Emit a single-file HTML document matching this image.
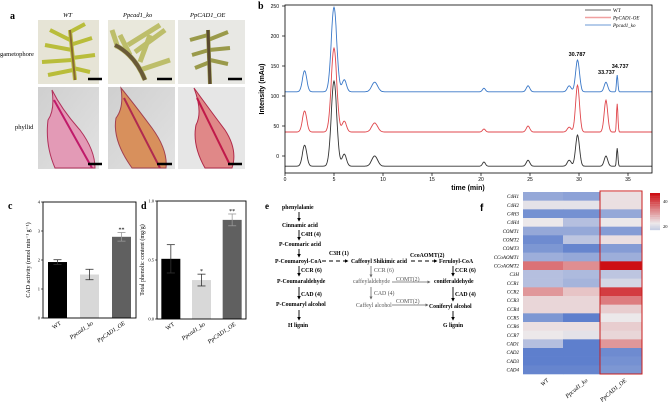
<!DOCTYPE html>
<html><head><meta charset="utf-8">
<style>
html,body{margin:0;padding:0;background:#fff;}
#root{position:relative;width:669px;height:404px;overflow:hidden;font-family:"Liberation Serif",serif;}
svg{position:absolute;left:0;top:0;}
</style></head>
<body>
<div id="root">
<svg id="fig" width="669" height="404" viewBox="0 0 669 404">
<defs>
 <linearGradient id="phyl" x1="0" y1="0" x2="1" y2="1"><stop offset="0" stop-color="#cfcfcf"/><stop offset="1" stop-color="#e2e2e2"/></linearGradient>
 <marker id="ah" viewBox="0 0 6 6" refX="5" refY="3" markerWidth="4" markerHeight="4" orient="auto"><path d="M0 0 L6 3 L0 6Z" fill="#000"/></marker>
 <marker id="ahg" viewBox="0 0 6 6" refX="5" refY="3" markerWidth="4" markerHeight="4" orient="auto"><path d="M0 0 L6 3 L0 6Z" fill="#666"/></marker>
</defs>
<!-- panel a -->
<g>
 <text x="10" y="19" font-size="10" font-weight="bold">a</text>
 <text x="63" y="17" font-size="6.5" font-style="italic">WT</text>
 <text x="123" y="17" font-size="6.5" font-style="italic">Ppcad1_ko</text>
 <text x="190" y="17" font-size="6.5" font-style="italic">PpCAD1_OE</text>
 <text x="0" y="56" font-size="6.5">gametophore</text>
 <text x="15" y="129" font-size="6.5">phyllid</text>
 <g>
  <rect x="38" y="20" width="61" height="64" fill="#e6e4d6"/>
  <path d="M75 80 L70 30 M70 40 L50 30 M72 50 L45 45 M72 60 L42 62 M73 70 L48 75 M70 45 L92 38 M72 58 L95 55 M73 68 L90 72 M70 32 L85 24" stroke="#b9bd3a" stroke-width="4" fill="none"/>
  <path d="M75 80 L70 30" stroke="#8a6a30" stroke-width="2"/>
 </g>
 <g>
  <rect x="108" y="20" width="67" height="64" fill="#e9e8dc"/>
  <path d="M145 80 Q135 55 115 45 M118 48 L112 30 M130 55 L120 35 M140 62 L150 35 M135 52 L165 30 M128 45 L160 25 M140 70 L170 60" stroke="#bdbe6a" stroke-width="5" fill="none"/>
  <path d="M145 80 Q135 55 115 45" stroke="#6a5a38" stroke-width="4" fill="none"/>
 </g>
 <g>
  <rect x="178" y="20" width="67" height="64" fill="#e8e8e4"/>
  <path d="M210 84 L208 30 M208 35 L190 40 M208 40 L228 32 M209 50 L192 55 M209 50 L230 48 M210 62 L195 68 M210 60 L228 64" stroke="#9a9a4a" stroke-width="4" fill="none"/>
  <path d="M210 84 L208 30" stroke="#5b4a30" stroke-width="3"/>
 </g>
 <g>
  <rect x="38" y="87" width="61" height="82" fill="url(#phyl)"/>
  <path d="M52 90 Q62 110 80 130 Q95 150 95 168 L55 168 Q45 145 48 120 Q55 110 52 90Z" fill="#e39ab6" stroke="#b0305a" stroke-width="1"/>
  <path d="M54 100 L92 168" stroke="#c01a6a" stroke-width="2"/>
 </g>
 <g>
  <rect x="108" y="87" width="67" height="82" fill="url(#phyl)"/>
  <path d="M121 88 Q135 105 152 128 Q168 150 166 168 L132 168 Q112 140 116 118 Q124 108 121 88Z" fill="#d8905c" stroke="#a24050" stroke-width="1"/>
  <path d="M124 98 L160 168" stroke="#b02a50" stroke-width="2"/>
 </g>
 <g>
  <rect x="178" y="87" width="67" height="82" fill="#e6e6e6"/>
  <path d="M194 88 Q210 110 225 130 Q238 150 232 168 L205 168 Q192 145 196 125 Q203 112 194 88Z" fill="#e08888" stroke="#b02a4a" stroke-width="1"/>
  <path d="M197 98 L230 165" stroke="#c01a4a" stroke-width="2"/>
 </g>
 <g stroke="#000" stroke-width="2.5">
  <line x1="88" y1="79" x2="102" y2="79"/><line x1="157" y1="79" x2="172" y2="79"/><line x1="228" y1="79" x2="242" y2="79"/>
  <line x1="88" y1="164" x2="102" y2="164"/><line x1="157" y1="164" x2="172" y2="164"/><line x1="228" y1="164" x2="242" y2="164"/>
 </g>
</g>
<g id="panelB"></g>
<g id="panelC"></g>
<g id="panelD"></g>
<!-- panel e -->
<g font-size="5.8" font-weight="bold" fill="#000">
 <text x="265" y="209" font-size="9">e</text>
 <text x="282" y="209">phenylalanie</text>
 <text x="282" y="227">Cinnamic acid</text>
 <text x="301" y="236">C4H (4)</text>
 <text x="279" y="246">P-Coumaric acid</text>
 <text x="275" y="263">P-Coumaroyl-CoA</text>
 <text x="329" y="255">C3H (1)</text>
 <text x="351" y="263">Caffeoyl Shikimic acid</text>
 <text x="410" y="257">CcoAOMT(2)</text>
 <text x="439" y="263">Feruloyl-CoA</text>
 <text x="301" y="272">CCR (6)</text>
 <text x="277" y="283">P-Coumaraldehyde</text>
 <text x="301" y="296">CAD (4)</text>
 <text x="276" y="306">P-Coumaryl alcohol</text>
 <text x="288" y="327">H lignin</text>
 <text x="374" y="272" font-weight="normal" fill="#555">CCR (6)</text>
 <text x="353" y="283" font-weight="normal" fill="#555">caffeylaldehyde</text>
 <text x="374" y="295" font-weight="normal" fill="#555">CAD (4)</text>
 <text x="356" y="307" font-weight="normal" fill="#555">Caffeyl alcohol</text>
 <text x="396" y="281" font-weight="normal" fill="#555">COMT(2)</text>
 <text x="396" y="303" font-weight="normal" fill="#555">COMT(2)</text>
 <text x="434" y="283">coniferaldehyde</text>
 <text x="429" y="308">Coniferyl alcohol</text>
 <text x="455" y="272">CCR (6)</text>
 <text x="455" y="296">CAD (4)</text>
 <text x="443" y="327">G lignin</text>
 <g stroke="#000" stroke-width="0.9" fill="none" marker-end="url(#ah)">
  <line x1="299" y1="212" x2="299" y2="221"/><line x1="299" y1="230" x2="299" y2="240"/><line x1="299" y1="249" x2="299" y2="257"/>
  <line x1="299" y1="266" x2="299" y2="276"/><line x1="299" y1="287" x2="299" y2="299"/><line x1="299" y1="310" x2="299" y2="320"/>
  <line x1="453" y1="266" x2="453" y2="276"/><line x1="453" y1="287" x2="453" y2="301"/><line x1="453" y1="311" x2="453" y2="320"/>
  <line x1="322" y1="261" x2="348" y2="261" stroke-dasharray="4,3"/><line x1="411" y1="261" x2="437" y2="261" stroke-dasharray="4,3"/>
 </g>
 <g stroke="#666" stroke-width="0.8" fill="none" marker-end="url(#ahg)">
  <line x1="371" y1="266" x2="371" y2="277"/><line x1="371" y1="287" x2="371" y2="299"/>
  <line x1="392" y1="282" x2="430" y2="282"/><line x1="392" y1="305" x2="428" y2="305"/>
 </g>
</g>
<g id="panelF"></g>
</svg>
</div>
<script>
const NS="http://www.w3.org/2000/svg";
function mk(parent,tag,attrs,txt){const e=document.createElementNS(NS,tag);for(const k in attrs)e.setAttribute(k,attrs[k]);if(txt!==undefined)e.textContent=txt;parent.appendChild(e);return e;}

// ---------- Panel B data ----------
const peakTimes=[2.0,5.0,6.05,9.15,20.3,24.8,29.0,29.85,32.75,33.9];
const peakWidths=[0.22,0.28,0.22,0.3,0.15,0.18,0.2,0.2,0.18,0.07];
const wtBaseline=-17;
const wtHeights=[35,142,20,17,7,10,10,52,17,30];
const oeBaseline=40;
const oeHeights=[35,140,18,15,5,10,8,78,53,47];
const koBaseline=107;
const koHeights=[35,141,20,16,6,10,10,53,16,28];
const bYTicks=[0,50,100,150,200,250];
const bXTicks=[0,5,10,15,20,25,30,35];
const peakLabels=["30.787","33.737","34.737"];
const peakLabelTimes=[29.8,32.8,34.2];
const peakLabelValues=[167,137,147];

const bx=t=>285+t*(343/35);
const by=v=>156-v*(150/250);
(function(){
 const g=document.getElementById('panelB');
 mk(g,'text',{x:258,y:9,'font-size':10,'font-weight':'bold',},'b');
 const series=[[wtBaseline,wtHeights,'#333333','wt-trace'],[oeBaseline,oeHeights,'#e0474c','oe-trace'],[koBaseline,koHeights,'#3a78c8','ko-trace']];
 series.forEach(([b,h,c,name])=>{
  let d='';
  for(let t=0;t<=37.5;t+=0.05){
   let v=b;
   for(let i=0;i<peakTimes.length;i++){const z=(t-peakTimes[i])/peakWidths[i];v+=h[i]*Math.exp(-0.5*z*z);}
   d+=(d?'L':'M')+bx(t).toFixed(1)+' '+by(v).toFixed(1);
  }
  const p=mk(g,'path',{d:d,fill:'none',stroke:c,'stroke-width':0.9});
  
  
 });
 const fr=mk(g,'rect',{x:285,y:5,width:367,height:168,fill:'none',stroke:'#000','stroke-width':0.8});
 
 
 bYTicks.forEach(v=>{
  mk(g,'line',{x1:282,x2:285,y1:by(v),y2:by(v),stroke:'#000','stroke-width':0.7});
  const t=mk(g,'text',{x:279,y:by(v)+2,'font-size':5,'text-anchor':'end','font-family':'Liberation Sans'},v);
  
  
 });
 bXTicks.forEach(v=>{
  mk(g,'line',{x1:bx(v),x2:bx(v),y1:173,y2:176,stroke:'#000','stroke-width':0.7});
  const t=mk(g,'text',{x:bx(v),y:181,'font-size':5,'text-anchor':'middle','font-family':'Liberation Sans'},v);
  
  
 });
 const yl=mk(g,'text',{x:264,y:89,'font-size':7,'font-weight':'bold','text-anchor':'middle','font-family':'Liberation Sans',transform:'rotate(-90 264 89)'},'Intensity (mAu)');
 
 
 const xl=mk(g,'text',{x:468,y:190,'font-size':7,'font-weight':'bold','text-anchor':'middle','font-family':'Liberation Sans'},'time (min)');
 
 
 peakLabels.forEach((s,i)=>{
  const t=mk(g,'text',{x:bx(peakLabelTimes[i]),y:by(peakLabelValues[i]),'font-size':5.5,'font-weight':'bold','text-anchor':'middle','font-family':'Liberation Sans'},s);
  
  
 });
 const leg=[['WT','#333','normal'],['PpCAD1-OE','#f0a0a0','italic'],['Ppcad1_ko','#3a78c8','italic']];
 leg.forEach((l,i)=>{
  const y=10+i*7.5;
  mk(g,'line',{x1:585,x2:611,y1:y,y2:y,stroke:l[1],'stroke-width':i==1?1.5:0.8});
  const t=mk(g,'text',{x:613,y:y+2,'font-size':5,'font-style':l[2]},l[0]);
  
  
 });
})();

// ---------- Panel C / D data ----------
const barCategories=["WT","Ppcad1_ko","PpCAD1_OE"];
const cadValues=[1.93,1.5,2.8];
const cadErrors=[0.08,0.18,0.15];
const cadTicks=[0,1,2,3,4];
const phenolValues=[0.51,0.33,0.84];
const phenolErrors=[0.12,0.05,0.05];
const phenolTicks=[0,0.5,1.0];
const barSignif=["","","**"];
const phenolSignif=["","*","**"];
const barColors=["#000000","#d8d8d8","#606060"];

function barPanel(id,left,right,top,bottom,maxV,vals,errs,ticks,tickFmt,sig,label,ytitle,lx){
 const g=document.getElementById(id);
 const sy=v=>bottom-v*(bottom-top)/maxV;
 const slot=(right-left)/3;
 mk(g,'text',{x:lx,y:209,'font-size':10,'font-weight':'bold'},label);
 vals.forEach((v,i)=>{
  const cx=left+slot*(i+0.5)+ (i-1)*1;
  const r=mk(g,'rect',{x:cx-9.5,y:sy(v),width:19,height:bottom-sy(v),fill:barColors[i]});
  
  
  const e1=sy(v+errs[i]),e2=sy(v-errs[i]);
  const ec=i==2?'#999':'#333';
  mk(g,'line',{x1:cx,x2:cx,y1:e1,y2:e2,stroke:ec,'stroke-width':0.8});
  mk(g,'line',{x1:cx-4,x2:cx+4,y1:e1,y2:e1,stroke:ec,'stroke-width':0.8});
  mk(g,'line',{x1:cx-4,x2:cx+4,y1:e2,y2:e2,stroke:ec,'stroke-width':0.8});
  if(sig[i]){const s=mk(g,'text',{x:cx,y:e1-1,'font-size':6,'text-anchor':'middle'},sig[i]);}
  const t=mk(g,'text',{x:cx+4,y:bottom+6,'font-size':6,'font-style':i?'italic':'normal','text-anchor':'end',transform:`rotate(-35 ${cx+4} ${bottom+6})`},barCategories[i]);
  
  
 });
 mk(g,'rect',{x:left,y:top,width:right-left,height:bottom-top,fill:'none',stroke:'#000','stroke-width':0.9});
 ticks.forEach(v=>{
  mk(g,'line',{x1:left-2,x2:left,y1:sy(v),y2:sy(v),stroke:'#000','stroke-width':0.6});
  const t=mk(g,'text',{x:left-3,y:sy(v)+1.5,'font-size':4.5,'text-anchor':'end'},tickFmt(v));
  
  
 });
 const yt=mk(g,'text',{x:left-13,y:(top+bottom)/2,'font-size':6,'text-anchor':'middle',transform:`rotate(-90 ${left-13} ${(top+bottom)/2})`},ytitle);
 
 
}
barPanel('panelC',43,136,202,318,4,cadValues,cadErrors,cadTicks,v=>v,barSignif,'c','CAD activity (nmol min⁻¹ g⁻¹)',8);
barPanel('panelD',157,246,201,319,1.0,phenolValues,phenolErrors,phenolTicks,v=>v.toFixed(1),phenolSignif,'d','Total phenolic content (mg/g)',141);

// ---------- Panel F data ----------
const geneNames=["C4H1","C4H2","C4H3","C4H4","COMT1","COMT2","COMT3","CCoAOMT1","CCoAOMT2","C3H","CCR1","CCR2","CCR3","CCR4","CCR5","CCR6","CCR7","CAD1","CAD2","CAD3","CAD4"];
const heatWT=[10,20,6,21,10,5,7,11,34,14,14,30,23,23,7,22,21,14,3,3,4];
const heatKO=[9,20,6,14,10,15,4,10,31,13,12,25,23,23,3,22,20,3,3,3,4];
const heatOE=[22,22,10,21,8,22,8,11,45,15,18,40,33,24,21,24,23,30,5,6,7];
const heatColumns=["WT","Ppcad1_ko","PpCAD1_OE"];
const legendTicks=[40,20];
function heatColor(v){
 const mid=21;const lo=[70,110,200],m=[236,232,234],hi=[205,15,20];
 let c;
 if(v<=mid){const t=Math.max(0,v)/mid;c=lo.map((a,i)=>a+(m[i]-a)*t);}
 else{const t=Math.min(1,(v-mid)/(45-mid));c=m.map((a,i)=>a+(hi[i]-a)*t);}
 return `rgb(${c.map(Math.round).join(',')})`;
}
(function(){
 const g=document.getElementById('panelF');
 const x0=523,cw=[40,37,42],y0=192,rh=182/geneNames.length;
 mk(g,'text',{x:480,y:211,'font-size':10,'font-weight':'bold','font-family':'Liberation Sans'},'f');
 const cols=[heatWT,heatKO,heatOE];
 geneNames.forEach((n,r)=>{
  let x=x0;
  cols.forEach((arr,c)=>{
   const rc=mk(g,'rect',{x:x,y:y0+r*rh,width:cw[c]+0.3,height:rh+0.3,fill:heatColor(arr[r])});
   
   
   x+=cw[c];
  });
  const t=mk(g,'text',{x:519,y:y0+r*rh+rh*0.72,'font-size':5,'font-style':'italic','text-anchor':'end'},n);
  
  
 });
 mk(g,'rect',{x:600,y:191,width:42,height:183,fill:'none',stroke:'#c81e1e','stroke-width':1});
 heatColumns.forEach((n,c)=>{
  const cx=[543,582,621][c];
  const t=mk(g,'text',{x:cx+6,y:381,'font-size':6,'font-style':'italic','text-anchor':'end',transform:`rotate(-40 ${cx+6} 381)`},n);
  
  
 });
 for(let i=0;i<20;i++){
  const v=45-i*(30/20);
  mk(g,'rect',{x:650,y:193+i*1.85,width:10,height:2,fill:heatColor(v)});
 }
 legendTicks.forEach(v=>{
  const y=193+(45-v)/30*37;
  const t=mk(g,'text',{x:663,y:y+4,'font-size':4.5},v);
  
  
 });
})();
</script>
</body></html>
